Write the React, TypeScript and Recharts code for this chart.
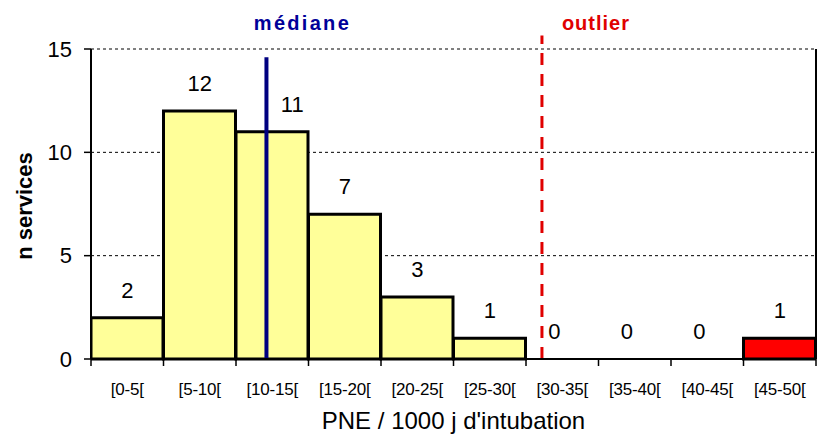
import React from 'react';
import {
  ComposedChart,
  Bar,
  Line,
  Cell,
  XAxis,
  YAxis,
  CartesianGrid,
  LabelList,
  ReferenceLine,
} from 'recharts';

const categories = ['[0-5[', '[5-10[', '[10-15[', '[15-20[', '[20-25[', '[25-30[', '[30-35[', '[35-40[', '[40-45[', '[45-50['];
const binStarts = [0, 5, 10, 15, 20, 25, 30, 35, 40, 45];
const binWidth = 5;
const counts = [2, 12, 11, 7, 3, 1, 0, 0, 0, 1];
const xTicks = [0, 5, 10, 15, 20, 25, 30, 35, 40, 45, 50];
const yTicks = [0, 5, 10, 15];

const median = 12.1;
const medianTop = 14.6;
const outlier = 31.1;
const outlierTop = 15.65;

const data = categories.map((c, i) => ({
  bin: c,
  start: binStarts[i],
  mid: binStarts[i] + binWidth / 2,
  n: counts[i],
}));

const FONT = '"Liberation Sans", Arial, sans-serif';

// tick line on each bin boundary, bin label centred in the bin to its right
const XTick = (props: any) => {
  const { x, y, payload, width } = props;
  const half = width / categories.length / 2;
  const idx = binStarts.indexOf(payload.value);
  return (
    <g>
      <line x1={x} x2={x} y1={y - 7} y2={y} stroke="#000" strokeWidth={1.5} />
      {idx >= 0 && (
        <text x={x + half} y={y} dy={29} textAnchor="middle" fontSize={17} letterSpacing={-0.2} fill="#000">
          {categories[idx]}
        </text>
      )}
    </g>
  );
};

const YLabel = (props: any) => {
  const vb = props.viewBox || { x: 0, y: 49, width: 91, height: 310 };
  const cx = vb.x + 24;
  const cy = vb.y + vb.height / 2 + 2;
  return (
    <text
      x={cx}
      y={cy}
      transform={`rotate(-90, ${cx}, ${cy})`}
      textAnchor="middle"
      dominantBaseline="central"
      fontSize={22}
      fontWeight="bold"
      fill="#000"
    >
      n services
    </text>
  );
};

// count above each bar; the one under the median line is moved aside
const CountLabel = (props: any) => {
  const { x, y, value, index } = props;
  const d = data[index];
  let dx = 0;
  if (d && median >= d.start && median < d.start + binWidth) dx = 20;
  else if (value === 0) dx = -8;
  return (
    <text x={x + dx} y={y - 20} textAnchor="middle" fontSize={22} fill="#000">
      {value}
    </text>
  );
};

const lineLabel = (text: string, color: string, dx: number, dy: number, spacing: number) => (props: any) => {
  const vb = props.viewBox;
  if (!vb) return null;
  return (
    <text
      x={vb.x + dx}
      y={vb.y + dy}
      textAnchor="middle"
      fontSize={20}
      fontWeight="bold"
      letterSpacing={spacing}
      fill={color}
    >
      {text}
    </text>
  );
};

export default function App() {
  return (
    <div style={{ position: 'absolute', left: 0, top: 0, width: 817, height: 435, background: '#fff', fontFamily: FONT }}>
      <ComposedChart
        width={817}
        height={435}
        data={data}
        margin={{ top: 49, right: 1, bottom: 0, left: 0 }}
        barCategoryGap={0}
        barGap={0}
        style={{ fontFamily: FONT }}
      >
        <CartesianGrid vertical={false} stroke="#000" strokeDasharray="3 3" />
        <XAxis
          dataKey="mid"
          type="number"
          domain={[0, 50]}
          ticks={xTicks}
          interval={0}
          allowDataOverflow
          height={76}
          axisLine={{ stroke: '#000', strokeWidth: 2 }}
          tickLine={false}
          tickSize={7}
          tickMargin={0}
          tick={<XTick />}
          label={{ value: "PNE / 1000 j d'intubation", position: 'insideBottom', offset: 6, fontSize: 24, fill: '#000' }}
        />
        <YAxis
          width={91}
          domain={[0, 15]}
          ticks={yTicks}
          interval={0}
          axisLine={{ stroke: '#000', strokeWidth: 2 }}
          tickLine={{ stroke: '#000', strokeWidth: 1.5 }}
          tickSize={7}
          tickMargin={12}
          tick={{ fill: '#000', fontSize: 22 }}
          label={<YLabel />}
        />
        <Bar dataKey="n" stroke="#000" strokeWidth={3} isAnimationActive={false}>
          {data.map((d, i) => (
            <Cell key={i} fill={d.start >= outlier - binWidth && d.start > median ? '#FF0000' : '#FFFF99'} />
          ))}
        </Bar>
        {/* invisible series carrying the count labels, so zero bins get one too */}
        <Line dataKey="n" stroke="none" dot={false} activeDot={false} isAnimationActive={false} legendType="none">
          <LabelList dataKey="n" content={<CountLabel />} />
        </Line>
        <ReferenceLine
          segment={[{ x: 50, y: 0 }, { x: 50, y: 15 }]}
          stroke="#000"
          strokeWidth={2}
          ifOverflow="visible"
        />
        <ReferenceLine
          segment={[{ x: median, y: 0 }, { x: median, y: medianTop }]}
          stroke="#000080"
          strokeWidth={4}
          ifOverflow="visible"
          label={lineLabel('médiane', '#000099', 36, -27, 2.3)}
        />
        <ReferenceLine
          segment={[{ x: outlier, y: 0 }, { x: outlier, y: outlierTop }]}
          stroke="#E00000"
          strokeWidth={3}
          strokeDasharray="12 9"
          ifOverflow="visible"
          label={lineLabel('outlier', '#E00000', 54, -6, 1)}
        />
      </ComposedChart>
    </div>
  );
}
